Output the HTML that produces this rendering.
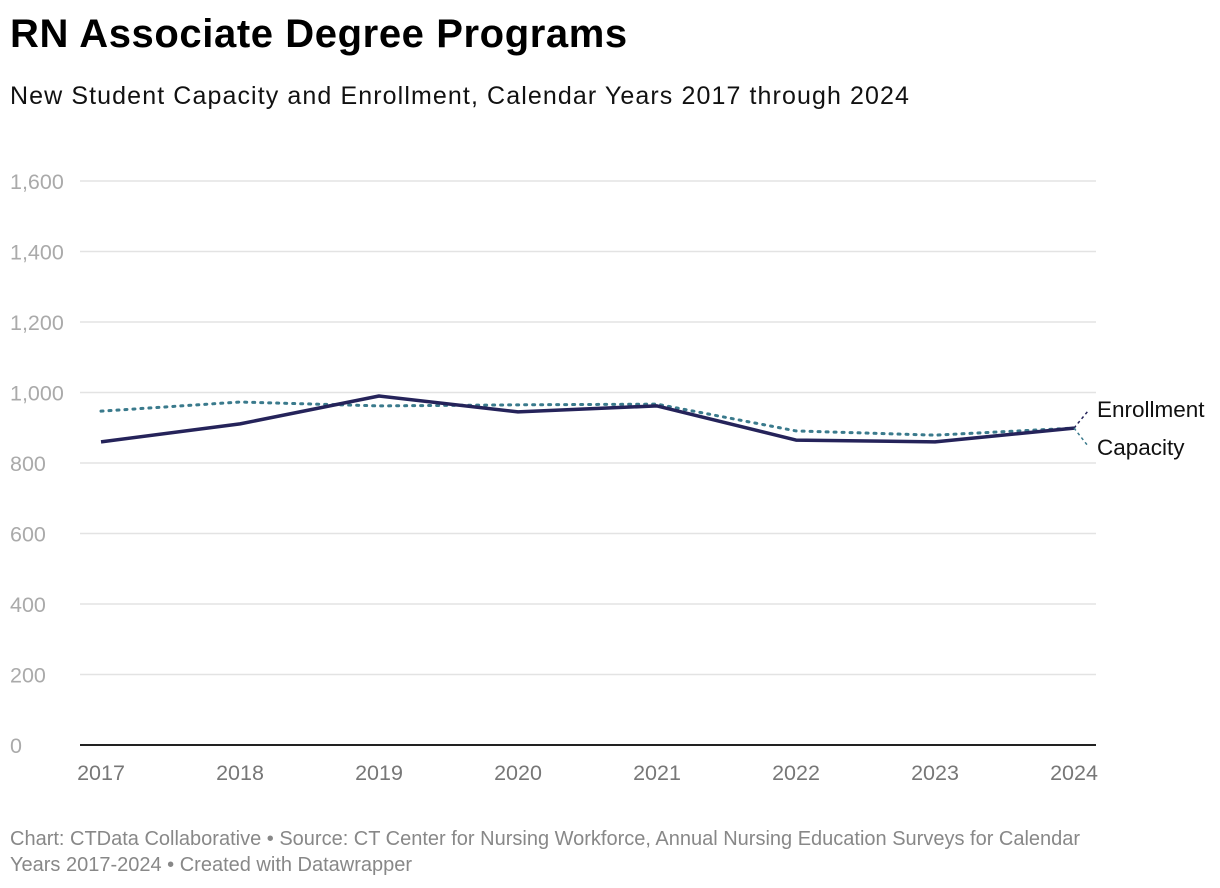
<!DOCTYPE html>
<html><head><meta charset="utf-8"><style>
body{margin:0;background:#fff;font-family:"Liberation Sans",sans-serif;}
#wrap{position:relative;width:1220px;height:888px;}
h1{position:absolute;left:10px;top:12px;margin:0;font-size:40px;font-weight:bold;color:#000;letter-spacing:0.6px;}
.sub{position:absolute;left:10px;top:82px;font-size:25px;color:#111;letter-spacing:1.1px;}
.foot{position:absolute;left:10px;top:826px;font-size:20px;color:#888;line-height:26px;width:1200px;white-space:nowrap;}
</style></head><body>
<div id="wrap">
<h1>RN Associate Degree Programs</h1>
<div class="sub">New Student Capacity and Enrollment, Calendar Years 2017 through 2024</div>
<svg id="chart" width="1220" height="888" style="position:absolute;left:0;top:0"></svg>
<div class="foot">Chart: CTData Collaborative • Source: CT Center for Nursing Workforce, Annual Nursing Education Surveys for Calendar<br>Years 2017-2024 • Created with Datawrapper</div>
</div>
<script>
const years=[2017,2018,2019,2020,2021,2022,2023,2024];
const enrollment=[860,911,990,945,962,865,860,899];
const capacity=[947,973,962,965,967,891,879,899];
const yTicks=[0,200,400,600,800,1000,1200,1400,1600];
const yTickLabels=["0","200","400","600","800","1,000","1,200","1,400","1,600"];
const NS="http://www.w3.org/2000/svg";
const svg=document.getElementById('chart');
const x=i=>101+i*(1074-101)/(years.length-1);
const y=v=>745-v*(745-181)/1600;
function mk(t,a){const e=document.createElementNS(NS,t);for(const k in a)e.setAttribute(k,a[k]);svg.appendChild(e);return e;}
yTicks.forEach((t,i)=>{
 const g=mk('line',{x1:80,x2:1096,y1:y(t),y2:y(t),stroke:t===0?'#222':'#e3e3e3','stroke-width':t===0?2:1.5});
 
 
 const l=mk('text',{x:10,y:y(t)+8,'font-size':21.5,fill:'#aaa','font-family':'Liberation Sans'});
 l.textContent=yTickLabels[i];
 
 
});
years.forEach((yr,i)=>{
 const l=mk('text',{x:x(i),y:780,'font-size':21.5,fill:'#777','text-anchor':'middle','font-family':'Liberation Sans'});
 l.textContent=yr;
 
 
});
const cap=mk('polyline',{points:capacity.map((v,i)=>x(i)+','+y(v)).join(' '),fill:'none',stroke:'#3a7a8c','stroke-width':3,'stroke-dasharray':'2 6','stroke-linecap':'round'});


const en=mk('polyline',{points:enrollment.map((v,i)=>x(i)+','+y(v)).join(' '),fill:'none',stroke:'#25235a','stroke-width':3.5,'stroke-linejoin':'round'});


const n=years.length-1;
const c1=mk('line',{x1:x(n),y1:y(enrollment[n]),x2:1088,y2:411,stroke:'#25235a','stroke-width':1.5,'stroke-dasharray':'3 3'});


const c2=mk('line',{x1:x(n),y1:y(capacity[n]),x2:1088,y2:446,stroke:'#3a7a8c','stroke-width':1.5,'stroke-dasharray':'3 3'});


const t1=mk('text',{x:1097,y:417,'font-size':22.5,fill:'#111','font-family':'Liberation Sans'});t1.textContent='Enrollment';


const t2=mk('text',{x:1097,y:455,'font-size':22.5,fill:'#111','font-family':'Liberation Sans'});t2.textContent='Capacity';


</script>
</body></html>
